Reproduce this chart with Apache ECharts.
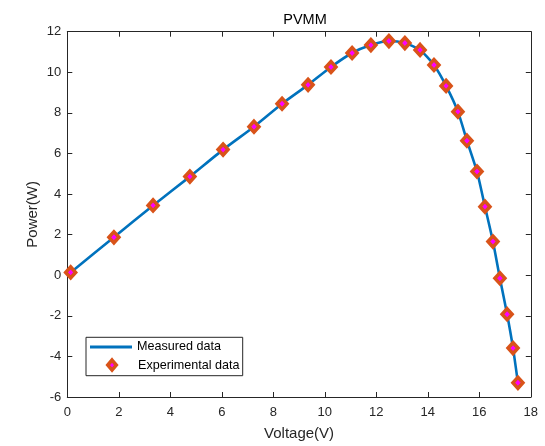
<!DOCTYPE html>
<html>
<head>
<meta charset="utf-8">
<script src="https://cdn.jsdelivr.net/npm/echarts@6/dist/echarts.min.js"></script>
<style>
html,body{margin:0;padding:0;background:#fff;}
#chart{width:545px;height:446px;}
</style>
</head>
<body>
<div id="chart"></div>
<script>
var titleText = 'PVMM';
var xLabel = 'Voltage(V)';
var yLabel = 'Power(W)';
var lineName = 'Measured data';
var scatterName = 'Experimental data';
var voltage = [0.13,1.81,3.33,4.76,6.05,7.25,8.34,9.35,10.24,11.06,11.79,12.49,13.11,13.70,14.24,14.71,15.17,15.52,15.91,16.22,16.53,16.80,17.08,17.31,17.50];
var power = [0.14,1.87,3.44,4.86,6.19,7.32,8.45,9.38,10.26,10.95,11.34,11.54,11.44,11.10,10.36,9.33,8.06,6.63,5.11,3.38,1.66,-0.15,-1.92,-3.59,-5.30];
var xTicks = {min:0, max:18, interval:2};
var yTicks = {min:-6, max:12, interval:2};

var pts = voltage.map(function(v,i){return [v, power[i]];});
var FONT = 'Liberation Sans, Arial, Helvetica, sans-serif';
var AX = '#262626';
var chart = echarts.init(document.getElementById('chart'), null, {renderer:'canvas'});

function xAxisDef(pos, showLabel, name){
  return {
    type:'value', position:pos, min:xTicks.min, max:xTicks.max, interval:xTicks.interval,
    axisLine:{show:true, onZero:false, lineStyle:{color:AX, width:1}},
    axisTick:{show:true, inside:true, length:5, lineStyle:{color:AX}},
    axisLabel:{show:showLabel, color:AX, fontSize:13, fontFamily:FONT, margin:9},
    splitLine:{show:false},
    name:name, nameLocation:'middle', nameGap:29, nameMoveOverlap:false,
    nameTextStyle:{color:AX, fontSize:15, fontFamily:FONT}
  };
}
function yAxisDef(pos, showLabel, name){
  return {
    type:'value', position:pos, min:yTicks.min, max:yTicks.max, interval:yTicks.interval,
    axisLine:{show:true, onZero:false, lineStyle:{color:AX, width:1}},
    axisTick:{show:true, inside:true, length:5, lineStyle:{color:AX}},
    axisLabel:{show:showLabel, color:AX, fontSize:13, fontFamily:FONT, margin:6},
    splitLine:{show:false},
    name:name, nameLocation:'middle', nameGap:27, nameRotate:90, nameMoveOverlap:false,
    nameTextStyle:{color:AX, fontSize:15, fontFamily:FONT}
  };
}

var option = {
  animation:false,
  backgroundColor:'#fff',
  title:{text:titleText, left:300, top:7, textAlign:'center',
    textStyle:{color:'#000', fontSize:14.5, fontWeight:'normal', fontFamily:FONT}},
  grid:{left:67.3, right:14.2, top:31.7, bottom:47.7, containLabel:false},
  xAxis:[xAxisDef('bottom', true, xLabel), xAxisDef('top', false, '')],
  yAxis:[yAxisDef('left', true, yLabel), yAxisDef('right', false, '')],
  graphic:[{type:'rect', z:3, shape:{x:86, y:337.3, width:156.7, height:38.4},
    style:{fill:'#fff', stroke:'#262626', lineWidth:1}}],
  legend:[
    {data:[{name:lineName, icon:'rect'}], orient:'vertical', left:90, top:340.5, padding:0, z:10,
      itemWidth:42, itemHeight:3, itemGap:0,
      itemStyle:{color:'#0072BD', borderWidth:0},
      textStyle:{color:'#000', fontSize:12.6, fontFamily:FONT}},
    {data:[{name:scatterName, icon:'path://M0,-7L6,0L0,7L-6,0Z'}], orient:'vertical', left:106, top:358.3, padding:0, z:10,
      itemWidth:42, itemHeight:10, itemGap:0, symbolKeepAspect:true,
      itemStyle:{color:'#FF00FF', borderColor:'#D95319', borderWidth:3.5},
      textStyle:{color:'#000', fontSize:12.6, fontFamily:FONT}}
  ],
  series:[
    {name:lineName, type:'line', data:pts, smooth:0.2, showSymbol:false, symbol:'none',
      lineStyle:{color:'#0072BD', width:2.6}, itemStyle:{color:'#0072BD'}, z:2},
    {name:scatterName, type:'scatter', data:pts, symbol:'diamond', symbolSize:[10,11],
      itemStyle:{color:'#FF00FF', borderColor:'#D95319', borderWidth:3.5, opacity:1}, z:3}
  ]
};
chart.setOption(option);
</script>
</body>
</html>
